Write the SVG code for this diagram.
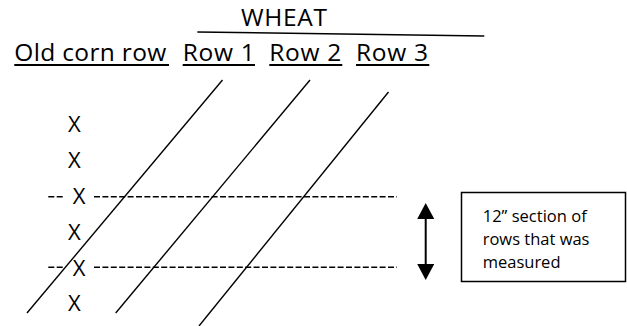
<svg xmlns="http://www.w3.org/2000/svg" width="627" height="326" viewBox="0 0 627 326">
  <style>
    .lbl { font-family: "Open Sans", "Liberation Sans", sans-serif; fill: #000; }
    .hdr { font-size: 24.5px; }
    .mark { font-size: 22px; text-anchor: middle; }
    .note { font-size: 16.5px; }
    .rule { stroke: #000; stroke-width: 2; }
    .row { stroke: #000; stroke-width: 1.4; fill: none; }
    .cut { stroke: #000; stroke-width: 1.5; stroke-dasharray: 6 2.4; fill: none; }
  </style>
  <defs>
    <marker id="head" viewBox="0 0 16 17" refX="1" refY="8.5" markerWidth="16" markerHeight="17" markerUnits="userSpaceOnUse" orient="auto-start-reverse">
      <path d="M0,0 L16,8.5 L0,17 Z" fill="#000"/>
    </marker>
  </defs>
  <rect width="627" height="326" fill="#fff"/>

  <!-- heading -->
  <g id="wheat">
    <text class="lbl hdr" x="241" y="26" font-size="25.5" textLength="86">WHEAT</text>
    <line x1="197.3" y1="32" x2="484.3" y2="36" stroke="#000" stroke-width="1.6"/>
  </g>

  <!-- column labels -->
  <g id="old-corn-row">
    <text class="lbl hdr" x="14.3" y="61" textLength="152">Old corn row</text>
    <line class="rule" x1="14.3" y1="65" x2="169" y2="65"/>
  </g>
  <g id="row-1">
    <text class="lbl hdr" x="182.7" y="61" textLength="72">Row 1</text>
    <line class="rule" x1="182.7" y1="65" x2="255" y2="65"/>
  </g>
  <g id="row-2">
    <text class="lbl hdr" x="269.3" y="61" textLength="72">Row 2</text>
    <line class="rule" x1="269.3" y1="65" x2="342.3" y2="65"/>
  </g>
  <g id="row-3">
    <text class="lbl hdr" x="356" y="61" textLength="72">Row 3</text>
    <line class="rule" x1="356" y1="65" x2="429.3" y2="65"/>
  </g>

  <!-- old corn row plants -->
  <g id="corn-marks">
    <text class="lbl mark" x="74.3" y="132">X</text>
    <text class="lbl mark" x="74.3" y="168">X</text>
    <text class="lbl mark" x="79" y="204">X</text>
    <text class="lbl mark" x="74.3" y="239.5">X</text>
    <text class="lbl mark" x="79" y="275.5">X</text>
    <text class="lbl mark" x="74.3" y="311">X</text>
  </g>

  <!-- wheat rows drawn at an angle -->
  <g id="wheat-rows">
    <line class="row" x1="222.5" y1="80" x2="27" y2="313"/>
    <line class="row" x1="310" y1="80" x2="115.7" y2="313"/>
    <line class="row" x1="388.5" y1="92" x2="199" y2="326"/>
  </g>

  <!-- boundaries of the measured section -->
  <g id="section-bounds">
    <path class="cut" d="M48.3,196.7 H64 M94,196.7 H397"/>
    <path class="cut" d="M48.3,267.3 H64 M94,267.3 H397"/>
  </g>

  <!-- connectors -->
  <g id="connectors">
    <line x1="425.7" y1="218" x2="425.7" y2="265" stroke="#000" stroke-width="2" marker-start="url(#head)" marker-end="url(#head)"/>
  </g>

  <!-- note box -->
  <g id="note">
    <rect x="461.5" y="192.5" width="164" height="89" fill="#fff" stroke="#000" stroke-width="1.5"/>
    <text class="lbl note" x="482.7" y="221.7" textLength="104">12” section of</text>
    <text class="lbl note" x="482.7" y="245">rows that was</text>
    <text class="lbl note" x="482.7" y="268.3">measured</text>
  </g>
</svg>
